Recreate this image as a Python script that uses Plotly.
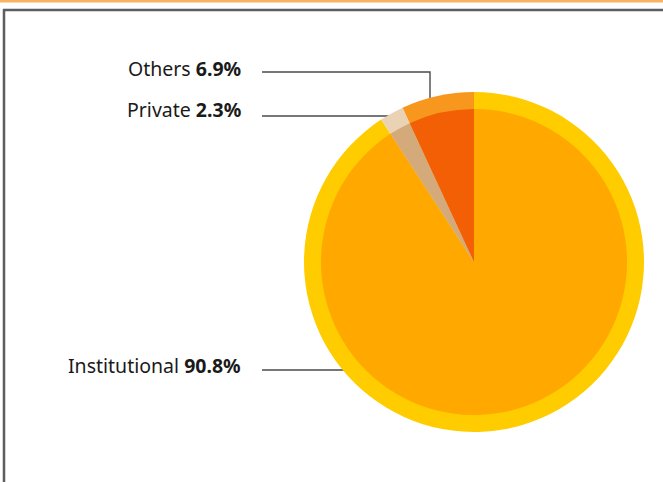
import numpy as np
import plotly.graph_objects as go

# Данные (по часовой стрелке от 12 часов)
labels = ['Institutional', 'Private', 'Others']
shares = [90.8, 2.3, 6.9]
inner_colors = ['#FFA800', '#D5AA7A', '#F25F05']
outer_colors = ['#FFCC00', '#EAD3B5', '#F7971E']

W, H = 663, 482
cx, cy = 474, 262          # центр круга, px
r_out, r_in = 170, 153     # радиусы, px


def px(x):
    return x / W


def py(y):
    return 1 - y / H


fig = go.Figure()

# Внешнее кольцо
fig.add_trace(go.Pie(
    labels=labels, values=shares, sort=False, direction='clockwise',
    rotation=0, marker=dict(colors=outer_colors, line=dict(width=0)),
    textinfo='none', hoverinfo='label+percent', showlegend=False,
    domain=dict(x=[px(cx - r_out), px(cx + r_out)], y=[py(cy + r_out), py(cy - r_out)])
))

# Внутренний круг
fig.add_trace(go.Pie(
    labels=labels, values=shares, sort=False, direction='clockwise',
    rotation=0, marker=dict(colors=inner_colors, line=dict(width=0)),
    textinfo='none', hoverinfo='label+percent', showlegend=False,
    domain=dict(x=[px(cx - r_in), px(cx + r_in)], y=[py(cy + r_in), py(cy - r_in)])
))

# Подписи и выноски
label_pos = {'Others': (69, 72), 'Private': (110, 116), 'Institutional': (365, 370)}
text_right = 243
line_start = 262

for lab, val in zip(labels, shares):
    ty, ly = label_pos[lab]
    fig.add_annotation(
        x=px(text_right), y=py(ty), xref='paper', yref='paper',
        text=f'{lab} <b>{val:.1f}%</b>', showarrow=False,
        xanchor='right', yanchor='middle',
        font=dict(family='Noto Sans', size=19.5, color='#1a1a1a')
    )
    if lab == 'Others':
        # горизонталь + вертикаль вниз до края круга
        x_end = 430
        y_edge = cy - np.sqrt(r_out**2 - (cx - x_end)**2)
        xs = [line_start, x_end, x_end]
        ys = [ly, ly, y_edge + 4]
    else:
        dy = ly - cy
        x_end = cx - np.sqrt(r_out**2 - dy**2)
        xs = [line_start, x_end + 2]
        ys = [ly, ly]
    path = 'M ' + ' L '.join(f'{px(a):.5f},{py(b):.5f}' for a, b in zip(xs, ys))
    fig.add_shape(type='path', path=path, xref='paper', yref='paper',
                  line=dict(color='#4a4a4a', width=1.4), layer='below')

# Рамка
fig.add_shape(type='rect', xref='paper', yref='paper', x0=0, x1=1, y0=py(2.5), y1=1,
              fillcolor='#F9B261', line=dict(width=0))
fig.add_shape(type='line', xref='paper', yref='paper', x0=px(3), x1=1,
              y0=py(10), y1=py(10), line=dict(color='#5e5e5e', width=2.5))
fig.add_shape(type='line', xref='paper', yref='paper', x0=px(4), x1=px(4),
              y0=py(9), y1=0, line=dict(color='#5e5e5e', width=2.5))

fig.update_layout(
    width=W, height=H,
    margin=dict(l=0, r=0, t=0, b=0),
    paper_bgcolor='white', plot_bgcolor='white',
    showlegend=False
)

fig.write_html('out.html', config={'displayModeBar': False},
               post_script="document.body.style.margin='0';")
